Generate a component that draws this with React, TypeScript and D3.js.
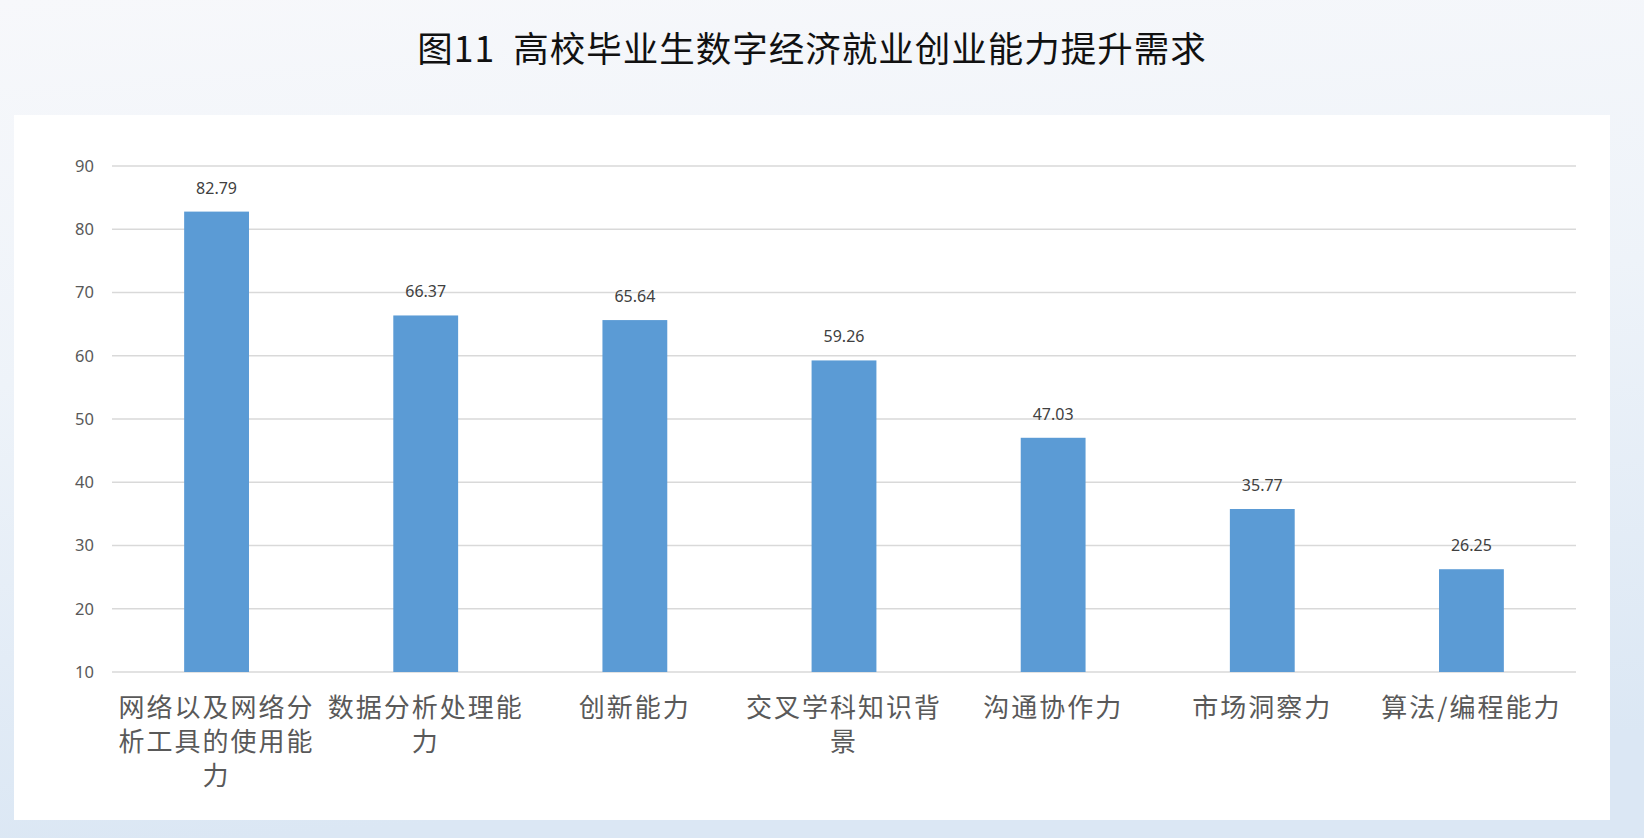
import React, { useEffect, useRef } from 'react';
import * as d3 from 'd3';

const categories = [
  '网络以及网络分析工具的使用能力',
  '数据分析处理能力',
  '创新能力',
  '交叉学科知识背景',
  '沟通协作力',
  '市场洞察力',
  '算法/编程能力',
];
const values = [82.79, 66.37, 65.64, 59.26, 47.03, 35.77, 26.25];
const yTicks = [10, 20, 30, 40, 50, 60, 70, 80, 90];
const title = '图11  高校毕业生数字经济就业创业能力提升需求';

const W = 1644;
const H = 838;
const FONT = '"Noto Sans", "Noto Sans CJK SC", sans-serif';
const CJK = '"Noto Sans CJK SC", "Noto Sans", sans-serif';

const App: React.FC = () => {
  const svgRef = useRef<SVGSVGElement>(null);

  useEffect(() => {
    if (!svgRef.current) return;
    const svg = d3.select(svgRef.current);
    svg.selectAll('*').remove();

    const defs = svg.append('defs');
    const grad = defs.append('linearGradient')
      .attr('id', 'bg').attr('x1', 0).attr('y1', 0).attr('x2', 0.15).attr('y2', 1);
    grad.append('stop').attr('offset', '0%').attr('stop-color', '#f7f8fb');
    grad.append('stop').attr('offset', '45%').attr('stop-color', '#eef3f9');
    grad.append('stop').attr('offset', '100%').attr('stop-color', '#dbe7f4');

    svg.append('rect').attr('width', W).attr('height', H).attr('fill', 'url(#bg)');

    // title
    svg.append('text')
      .attr('x', 812).attr('y', 62)
      .attr('text-anchor', 'middle')
      .attr('font-family', CJK)
      .attr('font-size', 35.5)
      .attr('letter-spacing', 1)
      .attr('fill', '#111')
      .style('white-space', 'pre')
      .text(title);

    // white panel
    svg.append('rect')
      .attr('x', 14).attr('y', 115)
      .attr('width', 1596).attr('height', 705)
      .attr('fill', '#ffffff');

    const margin = { left: 112, right: 1576, top: 166, bottom: 672 };

    const x = d3.scaleBand<string>()
      .domain(categories)
      .range([margin.left, margin.right]);
    const y = d3.scaleLinear().domain([10, 90]).range([margin.bottom, margin.top]);

    const g = svg.append('g');

    // gridlines
    g.selectAll('.grid')
      .data(yTicks)
      .enter().append('line')
      .attr('x1', margin.left).attr('x2', margin.right)
      .attr('y1', d => y(d)).attr('y2', d => y(d))
      .attr('stroke', '#d9d9d9')
      .attr('stroke-width', 1.3);

    // y labels
    g.selectAll('.ylab')
      .data(yTicks)
      .enter().append('text')
      .attr('x', 94).attr('y', d => y(d))
      .attr('dy', '0.35em')
      .attr('text-anchor', 'end')
      .attr('font-family', FONT)
      .attr('font-size', 16.5)
      .attr('fill', '#595959')
      .text(d => d);

    const barW = x.bandwidth() * 0.31;

    // bars
    g.selectAll('.bar')
      .data(values)
      .enter().append('rect')
      .attr('x', (d, i) => x(categories[i])! + x.bandwidth() / 2 - barW / 2)
      .attr('y', d => y(d))
      .attr('width', barW)
      .attr('height', d => y(10) - y(d))
      .attr('fill', '#5b9bd5');

    // value labels
    g.selectAll('.val')
      .data(values)
      .enter().append('text')
      .attr('x', (d, i) => x(categories[i])! + x.bandwidth() / 2)
      .attr('y', d => y(d) - 18)
      .attr('text-anchor', 'middle')
      .attr('font-family', FONT)
      .attr('font-size', 16)
      .attr('fill', '#404040')
      .text(d => d.toFixed(2));

    // category labels with wrapping
    const maxW = x.bandwidth() - 4;
    categories.forEach(cat => {
      const cx = x(cat)! + x.bandwidth() / 2;
      const t = g.append('text')
        .attr('text-anchor', 'middle')
        .attr('font-family', CJK)
        .attr('font-size', 26)
        .attr('letter-spacing', 2)
        .attr('fill', '#595959');
      const chars = Array.from(cat);
      const lines: string[] = [];
      let cur = '';
      const probe = t.append('tspan');
      chars.forEach(ch => {
        probe.text(cur + ch);
        const len = (probe.node() as SVGTSpanElement).getComputedTextLength();
        if (len > maxW && cur) {
          lines.push(cur);
          cur = ch;
        } else {
          cur += ch;
        }
      });
      if (cur) lines.push(cur);
      probe.remove();
      lines.forEach((ln, i) => {
        t.append('tspan')
          .attr('x', cx)
          .attr('y', 717 + i * 34)
          .text(ln);
      });
    });
  }, []);

  return (
    <div style={{ position: 'fixed', left: 0, top: 0, width: W, height: H, overflow: 'hidden' }}>
      <svg ref={svgRef} width={W} height={H} viewBox={`0 0 ${W} ${H}`} style={{ display: 'block' }} />
    </div>
  );
};

export default App;
